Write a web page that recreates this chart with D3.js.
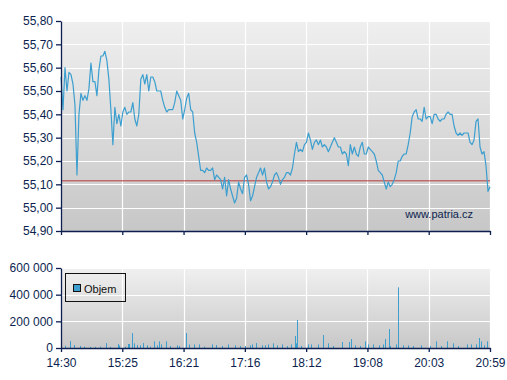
<!DOCTYPE html>
<html><head><meta charset="utf-8">
<script src="https://cdn.jsdelivr.net/npm/d3@7/dist/d3.min.js"></script>
<style>html,body{margin:0;padding:0;background:#fff;}svg{display:block;font-family:"Liberation Sans",Arial,sans-serif;}</style>
</head><body>
<svg id="chart" width="507" height="380"></svg>
<script>
// ---- data ----
const sessionStart = "14:30";
const sessionEnd = "20:59";
const tickLabels = ["14:30","15:25","16:21","17:16","18:12","19:08","20:03","20:59"];
const priceTicks = [54.90,55.00,55.10,55.20,55.30,55.40,55.50,55.60,55.70,55.80];
const referencePrice = 55.115;
const prices = [
55.56,55.42,55.60,55.50,55.58,55.57,55.53,55.44,55.14,55.40,
55.49,55.46,55.48,55.46,55.51,55.62,55.54,55.54,55.48,55.59,
55.65,55.65,55.67,55.63,55.55,55.42,55.27,55.43,55.36,55.40,
55.35,55.41,55.43,55.40,55.41,55.41,55.45,55.38,55.35,55.40,
55.55,55.57,55.53,55.57,55.50,55.56,55.56,55.54,55.50,55.50,
55.50,55.46,55.43,55.41,55.42,55.42,55.42,55.45,55.50,55.48,
55.46,55.38,55.42,55.47,55.49,55.42,55.41,55.32,55.28,55.22,
55.16,55.16,55.15,55.17,55.16,55.16,55.17,55.12,55.14,55.13,
55.12,55.08,55.13,55.05,55.12,55.08,55.05,55.02,55.04,55.11,
55.08,55.06,55.13,55.14,55.10,55.03,55.05,55.09,55.13,55.15,
55.17,55.14,55.17,55.11,55.08,55.09,55.11,55.14,55.15,55.13,
55.10,55.12,55.13,55.15,55.15,55.14,55.17,55.23,55.28,55.24,
55.25,55.24,55.27,55.28,55.32,55.29,55.25,55.28,55.29,55.27,
55.29,55.26,55.27,55.26,55.24,55.26,55.28,55.30,55.28,55.26,
55.26,55.23,55.24,55.23,55.18,55.27,55.23,55.26,55.23,55.22,
55.26,55.28,55.23,55.23,55.26,55.25,55.24,55.23,55.20,55.16,
55.15,55.14,55.11,55.08,55.11,55.09,55.10,55.12,55.15,55.20,
55.20,55.22,55.23,55.23,55.27,55.32,55.39,55.41,55.42,55.38,
55.38,55.37,55.43,55.38,55.39,55.39,55.36,55.40,55.40,55.38,
55.37,55.38,55.38,55.40,55.41,55.40,55.40,55.35,55.32,55.31,
55.32,55.31,55.32,55.32,55.32,55.28,55.27,55.29,55.37,55.38,
55.26,55.23,55.24,55.18,55.07,55.09
];
const volumeTicks = [0,200000,400000,600000];
const volumeTimes = ["14:30","14:34","14:38","14:42","14:47","14:51","14:56","15:01","15:05","15:11",
"15:14","15:22","15:23","15:28","15:31","15:32","15:34","15:36","15:39","15:42",
"15:44","15:48","15:51","15:54","15:57","15:59","16:01","16:05","16:09","16:15",
"16:17","16:23","16:26","16:31","16:35","16:40","16:47","16:51","16:56","17:01",
"17:08","17:12","17:17","17:21","17:23","17:27","17:32","17:35","17:38","17:42",
"17:46","17:50","17:55","17:59","18:02","18:03","18:04","18:08","18:14","18:17",
"18:23","18:28","18:32","18:37","18:45","18:51","18:53","18:57","19:01","19:06",
"19:08","19:13","19:18","19:22","19:24","19:27","19:28","19:34","19:36","19:40",
"19:45","19:49","19:56","20:05","20:10","20:15","20:20","20:25","20:30","20:38",
"20:42","20:46","20:49","20:51","20:54","20:56"];
const volumes = [128000,17000,52000,22000,15000,10000,8000,8000,10000,37000,
8000,30000,18000,10000,30000,30000,112000,35000,22000,20000,
37000,20000,10000,50000,20000,50000,27000,50000,15000,20000,
15000,112000,27000,27000,27000,10000,27000,22000,15000,27000,
20000,15000,15000,20000,27000,37000,20000,20000,27000,35000,
20000,27000,15000,27000,90000,35000,210000,15000,27000,27000,
27000,97000,35000,15000,45000,45000,67000,20000,15000,50000,
27000,27000,20000,27000,67000,142000,15000,27000,455000,20000,
20000,15000,20000,15000,50000,15000,50000,35000,15000,27000,
27000,27000,75000,50000,20000,50000];

// ---- layout ----
const L = 61, R = 490;
const mainTop = 21, mainBot = 231;
const volTop = 268, volBot = 348;
const navy = "#0c1f4f";
const lineBlue = "#3c9fcf";

const svg = d3.select("#chart");
const parse = d3.timeParse("%H:%M");
const t0 = parse(sessionStart), t1 = parse(sessionEnd);
const x = d3.scaleTime().domain([t0, t1]).range([L, R]);
const yP = d3.scaleLinear().domain([54.90, 55.80]).range([mainBot, mainTop]);
const yV = d3.scaleLinear().domain([0, 600000]).range([volBot, volTop]);

const tickDates = tickLabels.map((d, i) => new Date(+t0 + (t1 - t0) * i / (tickLabels.length - 1)));
const priceDates = prices.map((d, i) => new Date(+t0 + (t1 - t0) * i / (prices.length - 1)));

const defs = svg.append("defs");
function grad(id, c0, c1) {
  const g = defs.append("linearGradient").attr("id", id).attr("x1", 0).attr("y1", 0).attr("x2", 0).attr("y2", 1);
  g.append("stop").attr("offset", "0%").attr("stop-color", c0);
  g.append("stop").attr("offset", "100%").attr("stop-color", c1);
}
grad("gMain", "#efefef", "#c7c7c7");
grad("gVol", "#f0f0f0", "#c8c8c8");

const locale = d3.formatLocale({decimal: ",", thousands: "\u00a0", grouping: [3], currency: ["", ""]});
const fP = locale.format(".2f");
const fV = locale.format(",d");

// backgrounds
svg.append("rect").attr("x", L).attr("y", mainTop).attr("width", R - L).attr("height", mainBot - mainTop).attr("fill", "url(#gMain)");
svg.append("rect").attr("x", L).attr("y", volTop).attr("width", R - L).attr("height", volBot - volTop).attr("fill", "url(#gVol)");

// gridlines main
const gMain = svg.append("g");
gMain.selectAll("line.h").data(priceTicks.slice(1)).join("line")
  .attr("x1", L).attr("x2", R).attr("y1", d => Math.round(yP(d)) + 0.5).attr("y2", d => Math.round(yP(d)) + 0.5)
  .attr("stroke", "#fff").attr("stroke-width", 1.2);
gMain.selectAll("line.v").data(tickDates.slice(1)).join("line")
  .attr("x1", d => Math.round(x(d)) + 0.5).attr("x2", d => Math.round(x(d)) + 0.5)
  .attr("y1", mainTop).attr("y2", mainBot).attr("stroke", "#fff").attr("stroke-width", 1.2);

// gridlines volume
const gVol = svg.append("g");
gVol.selectAll("line.h").data(volumeTicks.slice(1)).join("line")
  .attr("x1", L).attr("x2", R).attr("y1", d => Math.round(yV(d)) + 0.5).attr("y2", d => Math.round(yV(d)) + 0.5)
  .attr("stroke", "#fff").attr("stroke-width", 1.2);
gVol.selectAll("line.v").data(tickDates.slice(1)).join("line")
  .attr("x1", d => Math.round(x(d)) + 0.5).attr("x2", d => Math.round(x(d)) + 0.5)
  .attr("y1", volTop).attr("y2", volBot).attr("stroke", "#fff").attr("stroke-width", 1.2);

// reference line
svg.append("line").attr("x1", L).attr("x2", R)
  .attr("y1", yP(referencePrice)).attr("y2", yP(referencePrice))
  .attr("stroke", "#b83a3a").attr("stroke-width", 1);

// price line
const line = d3.line().x((d, i) => x(priceDates[i])).y(d => yP(d));
svg.append("path").datum(prices).attr("d", line)
  .attr("fill", "none").attr("stroke", lineBlue).attr("stroke-width", 1.2).attr("stroke-linejoin", "round");

// watermark
svg.append("text").attr("x", 473).attr("y", 218).attr("text-anchor", "end")
  .attr("fill", navy).attr("font-size", 11).text("www.patria.cz");

// volume bars
const volData = volumeTimes.map((t, i) => ({t: parse(t), v: volumes[i]}));
svg.append("g").selectAll("rect").data(volData).join("rect")
  .attr("x", d => Math.round(x(d.t))).attr("width", 1)
  .attr("y", d => yV(d.v)).attr("height", d => volBot - yV(d.v))
  .attr("fill", lineBlue);

// axes
function styleAxis(g) {
  g.selectAll("path.domain").attr("stroke", navy).attr("stroke-width", 1.3);
  g.selectAll(".tick line").attr("stroke", navy).attr("stroke-width", 1.3);
  g.selectAll("text").attr("fill", navy).attr("font-size", 12).attr("font-family", "Liberation Sans, Arial, sans-serif");
}
const yAxisP = d3.axisLeft(yP).tickValues(priceTicks).tickFormat(fP).tickSize(5).tickSizeOuter(0).tickPadding(3);
svg.append("g").attr("transform", `translate(${L},0)`).call(yAxisP).call(styleAxis);
const xAxisP = d3.axisBottom(x).tickValues(tickDates).tickFormat("").tickSize(4).tickSizeOuter(0);
svg.append("g").attr("transform", `translate(0,${mainBot})`).call(xAxisP).call(styleAxis);

const yAxisV = d3.axisLeft(yV).tickValues(volumeTicks).tickFormat(fV).tickSize(5).tickSizeOuter(0).tickPadding(3);
svg.append("g").attr("transform", `translate(${L},0)`).call(yAxisV).call(styleAxis);
const xAxisV = d3.axisBottom(x).tickValues(tickDates).tickFormat((d, i) => tickLabels[i]).tickSize(4).tickSizeOuter(0).tickPadding(6);
svg.append("g").attr("transform", `translate(0,${volBot})`).call(xAxisV).call(styleAxis);

// legend
const lg = svg.append("g");
lg.append("rect").attr("x", 65.5).attr("y", 273.5).attr("width", 60).attr("height", 28)
  .attr("fill", "none").attr("stroke", "#111").attr("stroke-width", 1);
lg.append("rect").attr("x", 73.5).attr("y", 284.5).attr("width", 7).attr("height", 7)
  .attr("fill", lineBlue).attr("stroke", "#111").attr("stroke-width", 1);
lg.append("text").attr("x", 84).attr("y", 292.5).attr("font-size", 11).attr("fill", "#111").text("Objem");
</script>
</body></html>
